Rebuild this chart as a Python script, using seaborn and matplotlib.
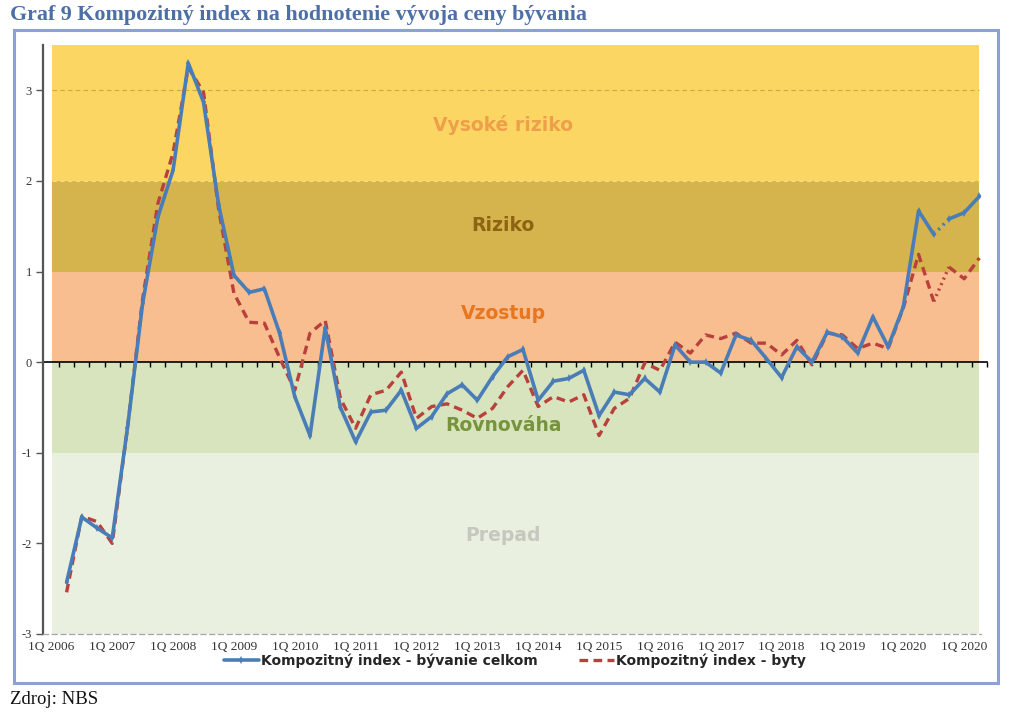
import numpy as np
import pandas as pd
import matplotlib
matplotlib.use("Agg")
import matplotlib.pyplot as plt
import seaborn as sns
from matplotlib.patches import Rectangle

# ---------------- data ----------------
tick_labels = ["1Q 2006", "1Q 2007", "1Q 2008", "1Q 2009", "1Q 2010", "1Q 2011",
               "1Q 2012", "1Q 2013", "1Q 2014", "1Q 2015", "1Q 2016", "1Q 2017",
               "1Q 2018", "1Q 2019", "1Q 2020", "1Q 2020"]

blue = [-2.43, -1.71, -1.83, -1.94, -0.73, 0.65, 1.60, 2.12, 3.30, 2.87,
        1.73, 0.96, 0.77, 0.81, 0.32, -0.38, -0.81, 0.38, -0.50, -0.88,
        -0.55, -0.53, -0.31, -0.73, -0.60, -0.35, -0.25, -0.42, -0.16, 0.06,
        0.14, -0.42, -0.21, -0.18, -0.09, -0.59, -0.33, -0.36, -0.18, -0.33,
        0.19, 0.00, 0.00, -0.12, 0.30, 0.24, 0.04, -0.17, 0.17, 0.00,
        0.33, 0.28, 0.10, 0.50, 0.17, 0.61, 1.67, 1.41, 1.58, 1.65,
        1.83]

red = [-2.54, -1.70, -1.76, -2.00, -0.73, 0.70, 1.75, 2.31, 3.25, 2.98,
       1.68, 0.76, 0.44, 0.43, 0.05, -0.31, 0.32, 0.46, -0.40, -0.73,
       -0.36, -0.31, -0.11, -0.62, -0.49, -0.46, -0.53, -0.62, -0.51, -0.27,
       -0.09, -0.49, -0.38, -0.44, -0.36, -0.81, -0.51, -0.40, -0.01, -0.09,
       0.22, 0.10, 0.30, 0.26, 0.32, 0.21, 0.21, 0.08, 0.24, -0.03,
       0.32, 0.30, 0.15, 0.21, 0.15, 0.60, 1.19, 0.67, 1.05, 0.92,
       1.15]

band_edges = [-3, -1, 0, 1, 2, 3.5]
band_names = ["Prepad", "Rovnováha", "Vzostup", "Riziko", "Vysoké riziko"]

series_names = ["Kompozitný index - bývanie celkom", "Kompozitný index - byty"]

# ---------------- styles ----------------
band_colors = ["#E9F0DF", "#D7E4BD", "#F8BE90", "#D5B44D", "#FCD662"]
band_text_colors = ["#C4C8BE", "#77933C", "#E8761E", "#8C6412", "#EE9F4C"]
band_label_y = [-1.91, -0.70, 0.54, 1.51, 2.62]
BLUE = "#4A7DB8"
RED = "#B9403C"
TICK_FONT = "Liberation Serif"

sns.set_theme(style="white")
plt.rcParams["font.family"] = ["DejaVu Sans"]

fig = plt.figure(figsize=(10.24, 7.18), dpi=100)
W, H = 1024, 718
left, right, top, bottom = 43, 987, 45, 634
ax = fig.add_axes([left / W, 1 - bottom / H, (right - left) / W, (bottom - top) / H])

n = len(blue)
idx = np.arange(n)
df = pd.DataFrame({"q": idx, "blue": blue, "red": red})

XMIN, XMAX = -1.55, 60.5
BAND_X0, BAND_X1 = -0.96, 60.0

# bands
for lo, hi, c, name, tc, ly in zip(band_edges[:-1], band_edges[1:], band_colors,
                                    band_names, band_text_colors, band_label_y):
    ax.fill_between([BAND_X0, BAND_X1], lo, hi, color=c, lw=0, zorder=0)
    ax.text(28.7, ly, name, ha="center", va="center", fontsize=13.5,
            fontweight="bold", color=tc, zorder=1)

# dashed grid lines visible in the top band
ax.plot([BAND_X0, BAND_X1], [3, 3], ls=(0, (4, 3)), lw=0.8, color="#C9A84E", zorder=1)
ax.plot([BAND_X0, BAND_X1], [2, 2], ls=(0, (4, 3)), lw=0.8, color="#F2DA8A", zorder=1)

# series: solid parts + one dotted segment (index 57 -> 58)
gap = 57
seg_a = df[df.q <= gap]
seg_b = df[(df.q >= gap) & (df.q <= gap + 1)]
seg_c = df[df.q >= gap + 1]

sns.lineplot(data=seg_a, x="q", y="red", ax=ax, color=RED, lw=2.4,
             linestyle=(0, (2.6, 1.6)), label=series_names[1], zorder=3)
sns.lineplot(data=seg_b, x="q", y="red", ax=ax, color=RED, lw=2.4,
             linestyle=(0, (0.6, 1.2)), zorder=3)
sns.lineplot(data=seg_c, x="q", y="red", ax=ax, color=RED, lw=2.4,
             linestyle=(0, (2.6, 1.6)), zorder=3)

sns.lineplot(data=seg_a, x="q", y="blue", ax=ax, color=BLUE, lw=2.6,
             marker="d", markersize=4, markeredgewidth=0, label=series_names[0], zorder=4)
sns.lineplot(data=seg_b, x="q", y="blue", ax=ax, color=BLUE, lw=2.6,
             linestyle=(0, (0.6, 1.2)), zorder=4)
sns.lineplot(data=seg_c, x="q", y="blue", ax=ax, color=BLUE, lw=2.6,
             marker="d", markersize=4, markeredgewidth=0, zorder=4)

ax.set_xlim(XMIN, XMAX)
ax.set_ylim(-3, 3.5)
ax.set_xlabel("")
ax.set_ylabel("")

# y axis
ax.set_yticks([-3, -2, -1, 0, 1, 2, 3])
ax.set_yticklabels(["-3", "-2", "-1", "0", "1", "2", "3"], family=TICK_FONT)
ax.tick_params(axis="y", direction="out", length=5, width=1, color="#555555",
               labelsize=9, labelcolor="#333333", pad=3, left=True)
for s in ["top", "right"]:
    ax.spines[s].set_visible(False)
ax.spines["left"].set_color("#555555")
ax.spines["left"].set_linewidth(1.6)

# bottom: dashed line at -3 with labels
ax.spines["bottom"].set_color("#A6A6A6")
ax.spines["bottom"].set_linestyle((0, (4, 3)))
ax.spines["bottom"].set_linewidth(0.9)
ax.spines["bottom"].set_bounds(XMIN, BAND_X1 + 0.1)
label_pos = np.arange(len(tick_labels)) * 4 - 1
ax.set_xticks(label_pos)
ax.set_xticklabels(tick_labels, family=TICK_FONT)
ax.tick_params(axis="x", length=0, labelsize=9.6, labelcolor="#333333", pad=5)

# zero axis with category tick marks
frac0 = (0 - (-3)) / 6.5
sec = ax.secondary_xaxis(frac0)
sec.set_xticks(np.arange(-0.5, n, 1.0))
sec.set_xticklabels([])
sec.tick_params(axis="x", direction="out", length=3.5, width=1, color="black")
sec.spines["bottom"].set_color("black")
sec.spines["bottom"].set_linewidth(1.2)

# legend
handles, labels = ax.get_legend_handles_labels()
if ax.get_legend() is not None:
    ax.get_legend().remove()
order = [labels.index(series_names[0]), labels.index(series_names[1])]
fig.legend([handles[i] for i in order], [labels[i] for i in order],
           loc="center", bbox_to_anchor=(0.503, 1 - 661 / H), ncol=2, frameon=False,
           prop={"weight": "bold", "size": 10}, handlelength=2.5, columnspacing=3.0,
           handletextpad=0.15)

# frame, title, source
fig.patches.append(Rectangle((14 / W, 1 - 683 / H), (998 - 14) / W, (683 - 30) / H,
                             transform=fig.transFigure, fill=False,
                             edgecolor="#8BA3CE", lw=2.2))
fig.text(10 / W, 1 - 15 / H, "Graf 9 Kompozitný index na hodnotenie vývoja ceny bývania",
         ha="left", va="center", fontsize=15.8, fontweight="bold", color="#4C6FA6",
         family="Liberation Serif")
fig.text(10 / W, 1 - 700 / H, "Zdroj: NBS", ha="left", va="center", fontsize=13.5,
         color="#111111", family="Liberation Serif")

fig.savefig("out.png", dpi=100, facecolor="white")
